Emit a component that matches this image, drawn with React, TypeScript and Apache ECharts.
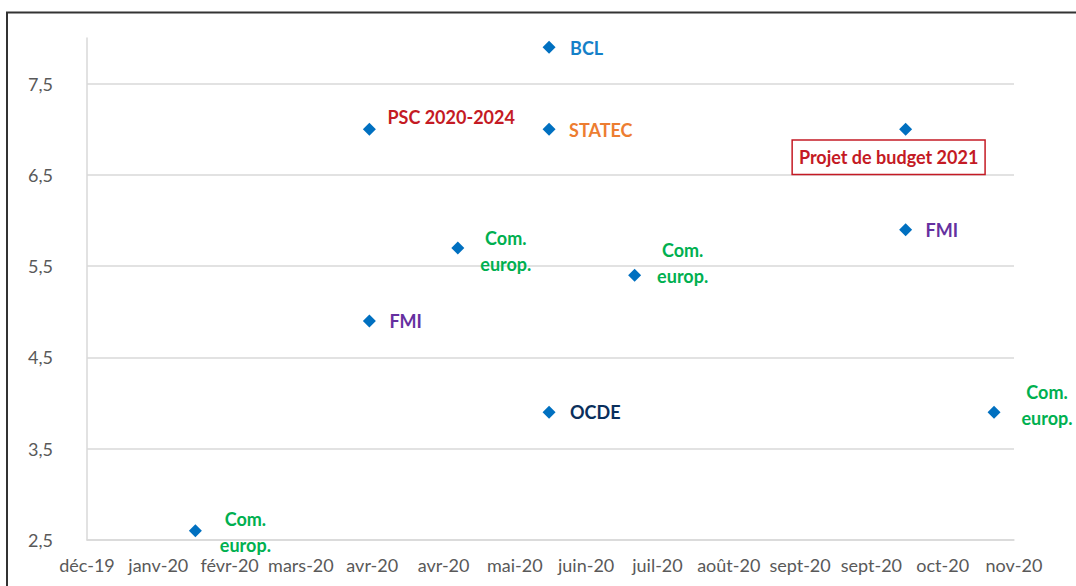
import React, { useEffect, useRef } from "react";
import * as echarts from "echarts";

// X-axis tick labels (Excel date axis, one tick every 25 days from 2019-12-26)
const tickLabels = [
  "déc-19", "janv-20", "févr-20", "mars-20", "avr-20", "avr-20", "mai-20",
  "juin-20", "juil-20", "août-20", "sept-20", "sept-20", "oct-20", "nov-20",
];
const axisStart = "2019-12-26";
const tickStepDays = 25;

// Forecasts (growth, %)
const pointDates = [
  "2020-02-02", "2020-04-03", "2020-04-03", "2020-05-04", "2020-06-05",
  "2020-06-05", "2020-06-05", "2020-07-05", "2020-10-08", "2020-10-08", "2020-11-08",
];
const pointValues = [2.6, 7.0, 4.9, 5.7, 7.9, 7.0, 3.9, 5.4, 7.0, 5.9, 3.9];
const pointLabels = [
  "Com.\neurop.", "PSC 2020-2024", "FMI", "Com.\neurop.", "BCL", "STATEC",
  "OCDE", "Com.\neurop.", "Projet de budget 2021", "FMI", "Com.\neurop.",
];

const yTicks = { min: 2.5, max: 8, interval: 1 };

const GREEN = "#00B050";
const RED = "#C41A24";
const PURPLE = "#6530A0";
const styles: any[] = [
  { color: GREEN, align: "center", offset: [50, 1] },
  { color: RED, align: "left", offset: [18, -12] },
  { color: PURPLE, align: "left", offset: [20, 0] },
  { color: GREEN, align: "center", offset: [48, 3] },
  { color: "#1480C8", align: "left", offset: [21, 1] },
  { color: "#ED7D31", align: "left", offset: [20, 1] },
  { color: "#0A2F5C", align: "left", offset: [21, 0] },
  { color: GREEN, align: "center", offset: [48, -12] },
  {
    color: RED, align: "center", offset: [-17, 28],
    borderColor: RED, borderWidth: 1.5, padding: [4, 6, 3, 6],
    backgroundColor: "#ffffff",
  },
  { color: PURPLE, align: "left", offset: [20, 0] },
  { color: GREEN, align: "center", offset: [53, -7] },
];

const DAY = 86400000;
const toDays = (d: string) => (Date.parse(d) - Date.parse(axisStart)) / DAY;

export default function App() {
  const ref = useRef<HTMLDivElement>(null);
  useEffect(() => {
    if (!ref.current) return;
    const chart = echarts.init(ref.current, null, { renderer: "svg" });
    const data = pointValues.map((v, i) => ({
      value: [toDays(pointDates[i]), v],
      label: {
        show: true,
        position: "inside",
        verticalAlign: "middle",
        fontFamily: "Lato",
        fontWeight: "bold",
        fontSize: 18,
        lineHeight: 26,
        textBorderWidth: 0,
        formatter: pointLabels[i],
        ...styles[i],
      },
    }));
    chart.setOption({
      animation: false,
      backgroundColor: "#ffffff",
      textStyle: { fontFamily: "Lato" },
      grid: { left: 87, right: 62, top: 38, bottom: 46 },
      xAxis: {
        type: "value",
        min: 0,
        max: tickStepDays * (tickLabels.length - 1),
        interval: tickStepDays,
        axisLine: { show: true, lineStyle: { color: "#D9D9D9", width: 1.5 } },
        axisTick: { show: false },
        splitLine: { show: false },
        axisLabel: {
          color: "#595959",
          fontSize: 18,
          fontFamily: "Lato",
          margin: 16,
          formatter: (v: number) => tickLabels[Math.round(v / tickStepDays)] ?? "",
        },
      },
      yAxis: {
        type: "value",
        min: yTicks.min,
        max: yTicks.max,
        interval: yTicks.interval,
        axisLine: { show: true, lineStyle: { color: "#D9D9D9", width: 1.5 } },
        axisTick: { show: false },
        splitLine: {
          show: true,
          showMaxLine: false,
          lineStyle: { color: "#D9D9D9", width: 1.5 },
        },
        axisLabel: {
          color: "#595959",
          fontSize: 18,
          fontFamily: "Lato",
          margin: 34,
          showMaxLabel: false,
          formatter: (v: number) => v.toFixed(1).replace(".", ","),
        },
      },
      graphic: [
        {
          type: "rect",
          shape: { x: 7, y: 12.5, width: 1200, height: 700 },
          style: { fill: "none", stroke: "#333333", lineWidth: 2 },
          silent: true,
        },
      ],
      series: [
        {
          type: "scatter",
          symbol: "diamond",
          symbolSize: 13,
          itemStyle: { color: "#0070C0", opacity: 1 },
          emphasis: { disabled: true },
          data,
        },
      ],
    });
    return () => chart.dispose();
  }, []);
  return (
    <div
      ref={ref}
      style={{ position: "fixed", left: 0, top: 0, width: 1076, height: 586 }}
    />
  );
}
